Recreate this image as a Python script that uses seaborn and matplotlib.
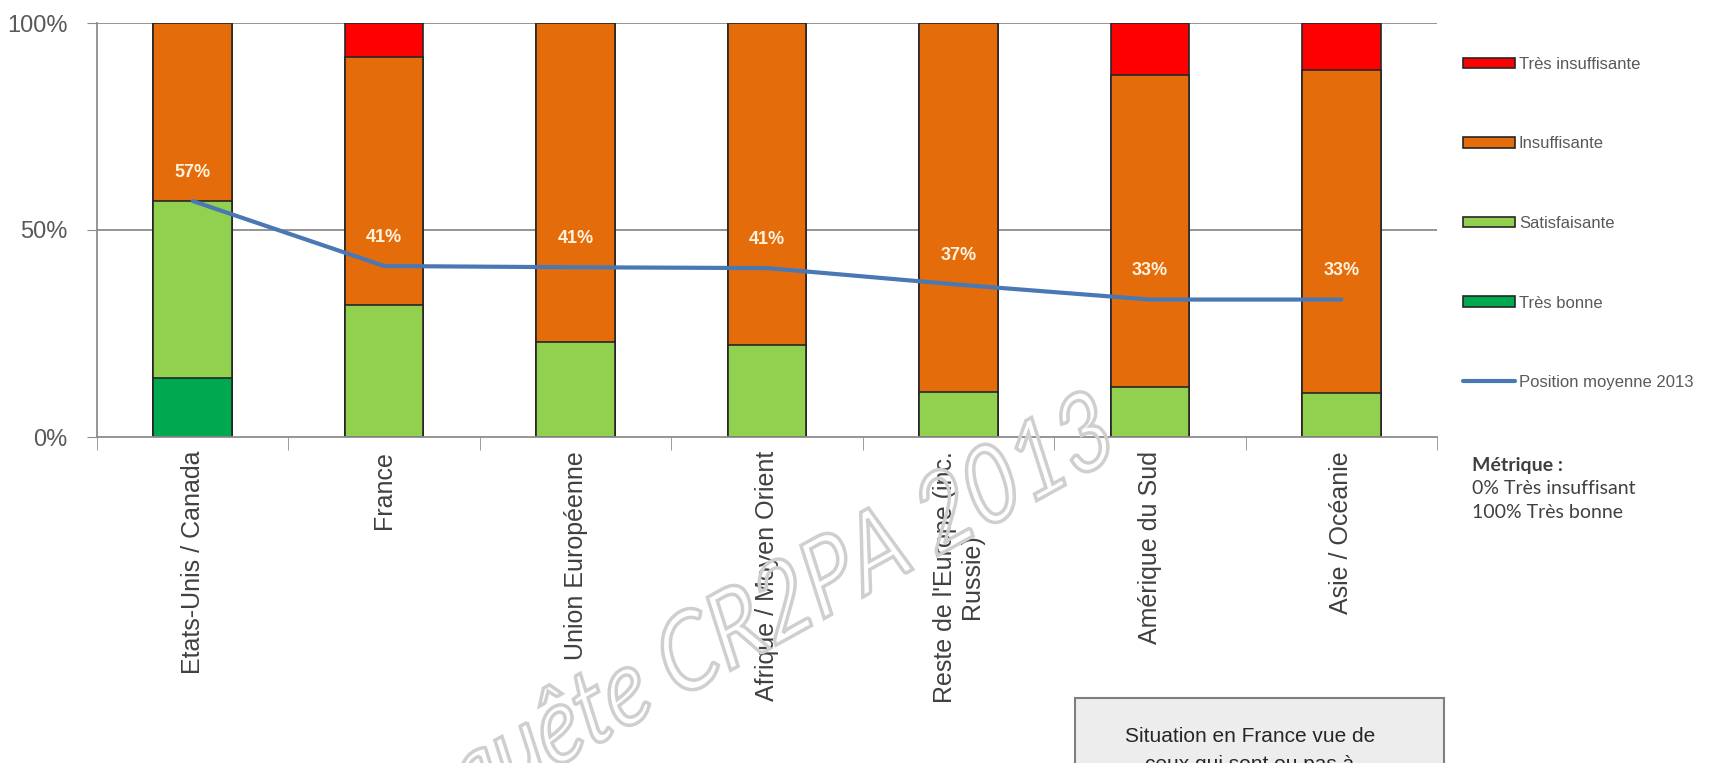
import numpy as np
import pandas as pd
import matplotlib
matplotlib.use('Agg')
import matplotlib.pyplot as plt
from matplotlib.patches import Patch, Rectangle, PathPatch
from matplotlib.lines import Line2D
from matplotlib.textpath import TextPath
from matplotlib.font_manager import FontProperties
from matplotlib.transforms import Affine2D
import seaborn as sns

# data (shares of answers per region)
regions = ['Etats-Unis / Canada', 'France', 'Union Européenne', 'Afrique / Moyen Orient',
           "Reste de l'Europe (inc.\nRussie)", 'Amérique du Sud', 'Asie / Océanie']
tres_bonne = [0.143, 0.0, 0.0, 0.0, 0.0, 0.0, 0.0]
satisfaisante = [0.427, 0.32, 0.23, 0.222, 0.109, 0.121, 0.106]
insuffisante = [0.43, 0.598, 0.77, 0.778, 0.891, 0.753, 0.78]
tres_insuffisante = [0.0, 0.082, 0.0, 0.0, 0.0, 0.126, 0.114]
position_moyenne = [0.57, 0.413, 0.41, 0.408, 0.368, 0.332, 0.332]

series_names = ['Très bonne', 'Satisfaisante', 'Insuffisante', 'Très insuffisante']
colors = {'Très bonne': '#00A84F', 'Satisfaisante': '#92D050',
          'Insuffisante': '#E46C0A', 'Très insuffisante': '#FF0000'}
line_color = '#4A78B5'

sns.set_style('white')
plt.rcParams['font.family'] = ['Liberation Sans', 'DejaVu Sans']

df = pd.DataFrame({'region': regions, 'Très bonne': tres_bonne, 'Satisfaisante': satisfaisante,
                   'Insuffisante': insuffisante, 'Très insuffisante': tres_insuffisante})
cum = df[series_names].cumsum(axis=1)

fig = plt.figure(figsize=(17.09, 7.63), dpi=100)
ax = fig.add_axes([97 / 1709, 1 - 437 / 763, 1340 / 1709, 414 / 763])

for y in [0.5, 1.0]:
    ax.axhline(y, color='#8c8c8c', lw=1.3, zorder=0)

# stacked bars: draw cumulative totals from the top layer down
for name in reversed(series_names):
    sns.barplot(x=df['region'], y=cum[name], color=colors[name], width=0.41,
                edgecolor='#262626', linewidth=1.2, saturation=1, ax=ax, zorder=2)

x_pos = np.arange(len(regions))
sns.lineplot(x=x_pos, y=position_moyenne, color=line_color, lw=3, ax=ax, zorder=3)

for xi, v in zip(x_pos, position_moyenne):
    ax.text(xi, v + 0.07, f'{v:.0%}', ha='center', va='center', color='#FFF3E0',
            fontsize=13, fontweight='bold', zorder=4)

ax.set_xlim(-0.5, len(regions) - 0.5)
ax.set_ylim(0, 1)
ax.set_yticks([0, 0.5, 1])
ax.set_yticklabels(['0%', '50%', '100%'])
ax.tick_params(axis='y', length=7, color='#8c8c8c', labelsize=17, labelcolor='#595959', pad=14, left=True)
ax.set_xticks(x_pos)
ax.set_xticklabels(regions, rotation=90, fontsize=18, color='#404040')
ax.tick_params(axis='x', which='major', length=0, pad=10)
ax.set_xticks(np.arange(-0.5, len(regions), 1), minor=True)
ax.tick_params(axis='x', which='minor', length=9, color='#8c8c8c', bottom=True, direction='out')
ax.set_xlabel('')
ax.set_ylabel('')
for s in ['top', 'right']:
    ax.spines[s].set_visible(False)
for s in ['left', 'bottom']:
    ax.spines[s].set_color('#8c8c8c')
    ax.spines[s].set_linewidth(1.3)

handles = [Patch(facecolor=colors[n], edgecolor='#262626', linewidth=1.2) for n in reversed(series_names)]
handles.append(Line2D([0], [0], color=line_color, lw=3))
labels = list(reversed(series_names)) + ['Position moyenne 2013']
fig.legend(handles, labels, loc='upper left', bbox_to_anchor=(1463 / 1709, 1 - 57 / 763),
           frameon=False, fontsize=12, labelspacing=3.87, handlelength=3.1, handleheight=0.6,
           handletextpad=0.25, borderpad=0, borderaxespad=0, labelcolor='#595959')

fig.text(1472 / 1709, 1 - 466 / 763, 'Métrique :', family=['Lato', 'DejaVu Sans'], fontweight='bold',
         fontsize=14, color='#404040', va='center')
fig.text(1472 / 1709, 1 - 489 / 763, '0% Très insuffisant', family=['Lato', 'DejaVu Sans'],
         fontsize=14, color='#404040', va='center')
fig.text(1472 / 1709, 1 - 512 / 763, '100% Très bonne', family=['Lato', 'DejaVu Sans'],
         fontsize=14, color='#404040', va='center')

# info box at the bottom, cut by the figure edge
fig.patches.append(Rectangle((1075 / 1709, -0.05), (1444 - 1075) / 1709, 0.05 + (763 - 698) / 763,
                             transform=fig.transFigure, facecolor='#EDEDED', edgecolor='#7f7f7f',
                             lw=1.5, zorder=5))
fig.text(1250 / 1709, 1 - 737 / 763, 'Situation en France vue de', ha='center', va='center',
         fontsize=15, color='#262626', zorder=6)
fig.text(1250 / 1709, 1 - 764 / 763, 'ceux qui sont ou pas à', ha='center', va='center',
         fontsize=15, color='#262626', zorder=6)

# watermark: outlined, slanted text, a bit taller than the font's own proportions
wm = TextPath((0, 0), 'Enquête CR2PA 2013', size=92, prop=FontProperties(family='Lato', style='italic'))
bb = wm.get_extents()
wm_tr = (Affine2D().translate(-bb.x0 - bb.width / 2, -bb.y0 - bb.height / 2)
         .skew_deg(6, 0).scale(1.0, 1.14).rotate_deg(29).translate(740, 763 - 632))
fig.add_artist(PathPatch(wm, transform=wm_tr, facecolor='none', edgecolor='#cfcfcf', lw=2.5, zorder=10))

fig.savefig('out.png', dpi=100)
